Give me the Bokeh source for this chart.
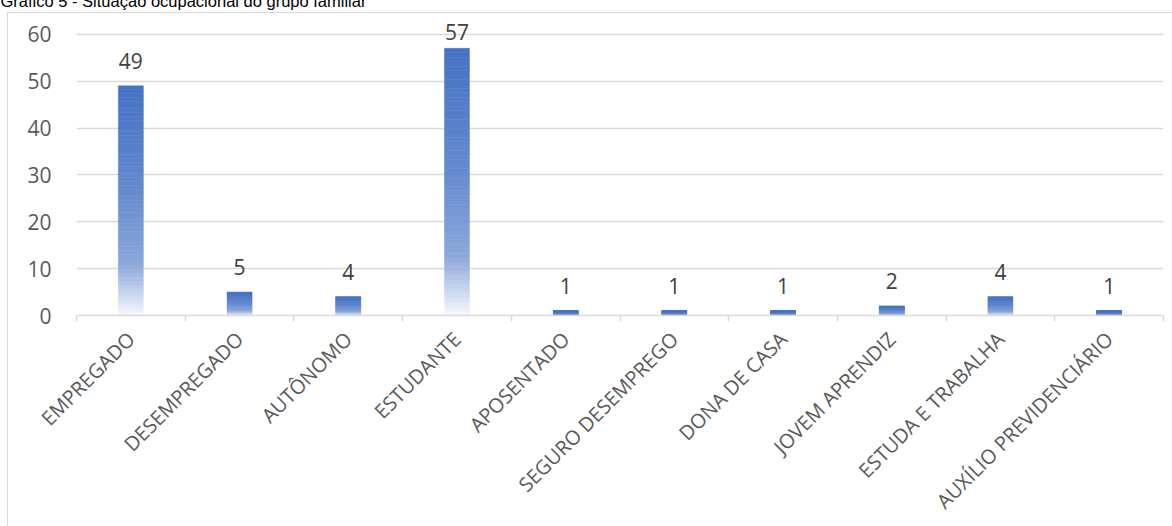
import math
from bokeh.plotting import figure
from bokeh.models import Range1d, FixedTicker, ColumnDataSource, Title
from bokeh.core.properties import value
from bokeh.embed import file_html
from bokeh.resources import INLINE

# ---- data ----
categories = ["EMPREGADO", "DESEMPREGADO", "AUTÔNOMO", "ESTUDANTE", "APOSENTADO",
              "SEGURO DESEMPREGO", "DONA DE CASA", "JOVEM APRENDIZ",
              "ESTUDA E TRABALHA", "AUXÍLIO PREVIDENCIÁRIO"]
counts = [49, 5, 4, 57, 1, 1, 1, 2, 4, 1]
y_ticks = [0, 10, 20, 30, 40, 50, 60]
title_text = "Gráfico 5 - Situação ocupacional do grupo familiar"

# ---- layout constants (canvas px) ----
W, H = 1172, 526
FL, FR = 76, 1163          # frame left / right
FB = 315                   # frame bottom (value 0)
Y60 = 34                   # canvas y of the 60 gridline
ppu = (FB - Y60) / 60.0    # px per unit
YMAX = 64
FT = FB - YMAX * ppu       # frame top

border_css = {
    "background-color": "white",
    "background-image": "linear-gradient(#D9D9D9, #D9D9D9), linear-gradient(#D9D9D9, #D9D9D9)",
    "background-size": "1px %dpx, %dpx 1px" % (H, W),
    "background-position": "7px 12px, 7px 12px",
    "background-repeat": "no-repeat",
}

# title sits mostly above the visible page, as in the source picture
ttl = Title(text=title_text + "\n", align="left", vertical_align="top",
            text_font="Liberation Sans", text_font_size="16.5px",
            text_font_style="normal", text_color="#000000", offset=-FL)
try:
    ttl.standoff = -29
except Exception:
    ttl.standoff = 0

p = figure(width=W, height=H, output_backend="svg", toolbar_location=None,
           x_range=Range1d(0, len(categories)), y_range=Range1d(0, YMAX),
           min_border_left=FL, min_border_right=W - FR,
           min_border_top=int(round(FT)), min_border_bottom=H - FB,
           background_fill_color=None, border_fill_color=None,
           styles=border_css, title=ttl)
p.outline_line_color = None

# ---- gradient bars (built as thin slices) ----
stops = [(0.0, (68, 114, 196)), (0.45, (100, 137, 206)), (0.78, (140, 168, 219)), (1.0, (246, 248, 253))]

def grad(t):
    for (t0, c0), (t1, c1) in zip(stops[:-1], stops[1:]):
        if t0 <= t <= t1:
            f = (t - t0) / (t1 - t0) if t1 > t0 else 0
            c = [int(round(a + (b - a) * f)) for a, b in zip(c0, c1)]
            return "#%02x%02x%02x" % tuple(c)
    return "#%02x%02x%02x" % stops[-1][1]

N = 60
xs, bots, tops, cols = [], [], [], []
for i, v in enumerate(counts):
    for k in range(N):
        xs.append(i + 0.5)
        bots.append(v * k / N)
        tops.append(v * (k + 1) / N)
        cols.append(grad(1 - (k + 0.5) / N))   # 0 at top, 1 at bottom
src = ColumnDataSource(dict(x=xs, bottom=bots, top=tops, color=cols))
p.vbar(x="x", bottom="bottom", top="top", width=0.23, fill_color="color",
       line_color="color", line_width=0.5, source=src)

# ---- data labels ----
off = 25 / ppu
lab_y = [min(v + off, 60 + 2 / ppu) for v in counts]
lsrc = ColumnDataSource(dict(x=[i + 0.5 for i in range(len(counts))], y=lab_y,
                             t=[str(v) for v in counts]))
p.text(x="x", y="y", text="t", source=lsrc, text_align="center", text_baseline="middle",
       text_font=value("Open Sans"), text_font_size="21px", text_color="#404040")

# ---- axes ----
xa = p.xaxis[0]
xa.ticker = FixedTicker(ticks=[i + 0.5 for i in range(len(categories))],
                        minor_ticks=list(range(len(categories) + 1)))
xa.major_label_overrides = {i + 0.5: c for i, c in enumerate(categories)}
xa.major_label_orientation = math.pi / 4
xa.major_tick_out = 0
xa.major_tick_in = 0
xa.minor_tick_out = 6
xa.minor_tick_in = 0
xa.minor_tick_line_color = "#D9D9D9"
xa.minor_tick_line_width = 1.5
xa.axis_line_color = "#D9D9D9"
xa.axis_line_width = 1.5
xa.major_label_text_font = "Open Sans"
xa.major_label_text_font_size = "20px"
xa.major_label_text_color = "#595959"
xa.major_label_standoff = 14

ya = p.yaxis[0]
ya.ticker = FixedTicker(ticks=y_ticks)
ya.axis_line_color = None
ya.major_tick_line_color = None
ya.minor_tick_line_color = None
ya.major_label_text_font = "Open Sans"
ya.major_label_text_font_size = "21px"
ya.major_label_text_color = "#595959"
ya.major_label_standoff = 19

p.xgrid.grid_line_color = None
p.ygrid.ticker = FixedTicker(ticks=y_ticks)
p.ygrid.grid_line_color = "#D9D9D9"
p.ygrid.grid_line_width = 1.5

open("out.html", "w").write(file_html(p, INLINE))
